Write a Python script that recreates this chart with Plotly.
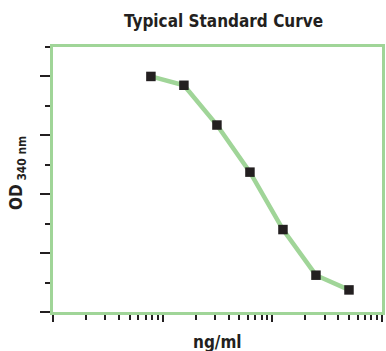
import plotly.graph_objects as go

# Data
conc_ng_ml = [7.8125, 15.625, 31.25, 62.5, 125, 250, 500]
od_340 = [1.60, 1.54, 1.27, 0.95, 0.56, 0.25, 0.15]

title_text = "Typical Standard Curve"
x_label = "ng/ml"
y_label = "OD<sub> 340 nm</sub>"

GREEN = "#a0d598"
INK = "#231f20"
FONT = "DejaVu Sans Condensed, DejaVu Sans, sans-serif"

fig = go.Figure()
fig.add_trace(go.Scatter(
    x=conc_ng_ml, y=od_340, mode="lines+markers",
    line=dict(color=GREEN, width=4.5),
    marker=dict(symbol="square", size=9.5, color=INK),
    showlegend=False, hoverinfo="skip",
))

fig.update_layout(
    width=386, height=351,
    margin=dict(l=53, r=1, t=47, b=39),
    paper_bgcolor="white", plot_bgcolor="white",
    font=dict(family=FONT, color=INK),
    xaxis=dict(
        type="log", range=[0, 3],
        showgrid=False, zeroline=False, showticklabels=False,
        showline=True, linecolor=GREEN, linewidth=3, mirror=True,
        ticks="outside", ticklen=7, tickwidth=2, tickcolor=INK, dtick=1,
        minor=dict(ticks="outside", ticklen=5, tickwidth=2, tickcolor=INK,
                   dtick="D1", showgrid=False),
    ),
    yaxis=dict(
        range=[0, 1.8],
        showgrid=False, zeroline=False, showticklabels=False,
        showline=True, linecolor=GREEN, linewidth=3, mirror=True,
        ticks="outside", ticklen=10, tickwidth=2, tickcolor=INK, dtick=0.4,
        minor=dict(ticks="outside", ticklen=5, tickwidth=2, tickcolor=INK,
                   dtick=0.2, showgrid=False),
    ),
    annotations=[
        dict(text="<b>" + title_text + "</b>", xref="paper", yref="paper",
             x=0.5, y=1.0, xanchor="center", yanchor="bottom", yshift=14,
             xshift=6, showarrow=False, font=dict(size=17, family=FONT, color=INK)),
        dict(text="<b>" + x_label + "</b>", xref="paper", yref="paper",
             x=0.5, y=0, xanchor="center", yanchor="top", yshift=-18,
             showarrow=False, font=dict(size=17, family=FONT, color=INK)),
        dict(text="<b>" + y_label + "</b>", xref="paper", yref="paper",
             x=0, y=0.5, xanchor="right", yanchor="middle", xshift=-22,
             yshift=6, textangle=-90, showarrow=False,
             font=dict(size=17, family=FONT, color=INK)),
    ],
)

fig.write_html("out.html", config={"displayModeBar": False},
               post_script="document.body.style.margin='0';document.body.style.overflow='hidden';")
